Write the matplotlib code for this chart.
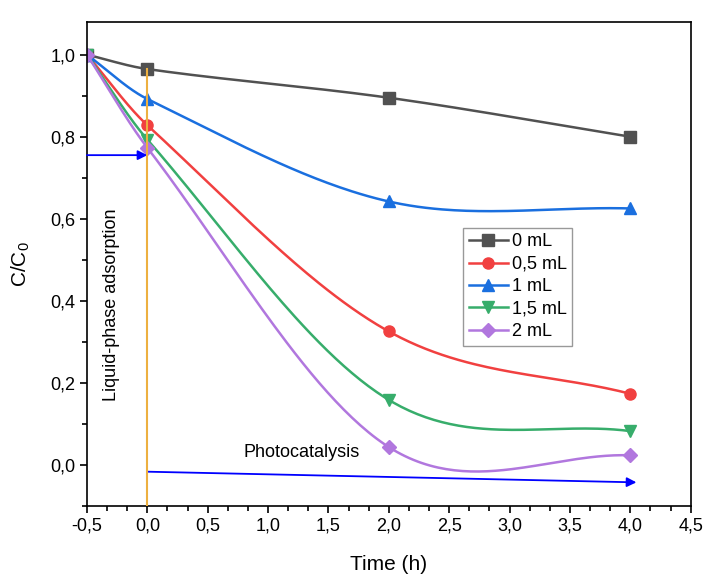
import numpy as np
import matplotlib
matplotlib.use("Agg")
import matplotlib.pyplot as plt
from matplotlib.ticker import MultipleLocator, AutoMinorLocator, FuncFormatter

plt.rcParams["font.family"] = ["Liberation Sans", "DejaVu Sans"]

# ── Data ──────────────────────────────────────────────────────────────────────
time_h = [-0.5, 0.0, 2.0, 4.0]
c_0ml = [1.000, 0.965, 0.895, 0.800]
c_05ml = [1.000, 0.828, 0.325, 0.173]
c_1ml = [1.000, 0.892, 0.642, 0.625]
c_15ml = [1.000, 0.793, 0.158, 0.082]
c_2ml = [1.000, 0.773, 0.043, 0.023]
labels = ["0 mL", "0,5 mL", "1 mL", "1,5 mL", "2 mL"]

colors = ["#515151", "#F14040", "#1A6FDF", "#37AD6B", "#B177DE"]
markers = ["s", "o", "^", "v", "D"]


def spline_curve(x, y, n=60):
    """Cubic Hermite spline through the points (Origin 'Spline' line)."""
    x = np.asarray(x, float)
    y = np.asarray(y, float)
    k = len(x)
    d = np.zeros(k)
    d[0] = (y[1] - y[0]) / (x[1] - x[0])
    d[-1] = (y[-1] - y[-2]) / (x[-1] - x[-2])
    for i in range(1, k - 1):
        d[i] = (y[i + 1] - y[i - 1]) / (x[i + 1] - x[i - 1])
    t = np.linspace(0, 1, n)
    h00 = 2 * t**3 - 3 * t**2 + 1
    h10 = t**3 - 2 * t**2 + t
    h01 = -2 * t**3 + 3 * t**2
    h11 = t**3 - t**2
    xs, ys = [], []
    for i in range(k - 1):
        h = x[i + 1] - x[i]
        xs.append(x[i] + t * h)
        ys.append(h00 * y[i] + h10 * h * d[i] + h01 * y[i + 1]
                  + h11 * h * d[i + 1])
    return np.concatenate(xs), np.concatenate(ys)


def comma_fmt(v, pos):
    return f"{v:.1f}".replace(".", ",")


fig = plt.figure(figsize=(7.07, 5.76), dpi=100)
ax = fig.add_axes([0.123, 0.122, 0.854, 0.84])

for series, lab, col, mk in zip([c_0ml, c_05ml, c_1ml, c_15ml, c_2ml],
                                labels, colors, markers):
    ms = 7 if mk == "D" else 8
    xs, ys = spline_curve(time_h, series)
    ax.plot(xs, ys, color=col, lw=1.8)
    ax.plot(time_h, series, ls="none", marker=mk, ms=ms, color=col)
    ax.plot([], [], color=col, lw=1.8, marker=mk, ms=ms, label=lab)

# annotations
ax.plot([0, 0], [-0.1, c_0ml[1]], color="#EDB040", lw=1.5, zorder=5)
ax.annotate("", xy=(0.0, 0.755), xytext=(-0.5, 0.755),
            arrowprops=dict(arrowstyle="-|>", color="#0000FF", lw=1.3,
                            mutation_scale=14, shrinkA=0, shrinkB=0))
ax.annotate("", xy=(4.05, -0.043), xytext=(0.0, -0.017),
            arrowprops=dict(arrowstyle="-|>", color="#0000FF", lw=1.3,
                            mutation_scale=14, shrinkA=0, shrinkB=0))
ax.text(0.8, 0.01, "Photocatalysis", fontsize=13, ha="left", va="bottom")
ax.text(-0.3, 0.39, "Liquid-phase adsorption", fontsize=13, rotation=90,
        ha="center", va="center")

ax.set_xlim(-0.5, 4.5)
ax.set_ylim(-0.1, 1.08)
ax.xaxis.set_major_locator(MultipleLocator(0.5))
ax.xaxis.set_minor_locator(AutoMinorLocator(3))
ax.yaxis.set_major_locator(MultipleLocator(0.2))
ax.yaxis.set_minor_locator(AutoMinorLocator(2))
ax.xaxis.set_major_formatter(FuncFormatter(comma_fmt))
ax.yaxis.set_major_formatter(FuncFormatter(comma_fmt))
ax.tick_params(which="major", direction="out", length=5, width=1.2,
               labelsize=13)
ax.tick_params(which="minor", direction="out", length=3.5, width=1.2)
for sp in ax.spines.values():
    sp.set_linewidth(1.2)

ax.set_xlabel("Time (h)", fontsize=15)
ax.set_ylabel("C/C$_{\\mathregular{0}}$", fontsize=15)
ax.xaxis.set_label_coords(0.5, -0.122)
ax.yaxis.set_label_coords(-0.11, 0.5)
ax.xaxis.label.set_va("center")
ax.yaxis.label.set_va("center")

leg = ax.legend(loc="upper left", bbox_to_anchor=(0.623, 0.574),
                fontsize=13, frameon=True, fancybox=False, handlelength=2.2,
                labelspacing=0.3, borderpad=0.3, handletextpad=0.2,
                borderaxespad=0)
leg.get_frame().set_edgecolor("#808080")
leg.get_frame().set_linewidth(1.0)

fig.savefig("out.png", dpi=100)
